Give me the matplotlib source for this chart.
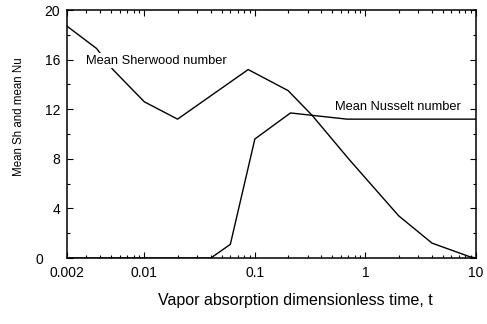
"""Mean Sherwood / Nusselt number vs vapor absorption time (log axis)."""
import matplotlib
matplotlib.use("Agg")
import matplotlib.pyplot as plt
import matplotlib.transforms as mtransforms
from matplotlib.ticker import FixedLocator, FixedFormatter, LogLocator, NullFormatter, MultipleLocator

plt.rcParams["font.family"] = ["Liberation Sans", "DejaVu Sans"]

# data
sh_t = [0.002, 0.0037, 0.0052, 0.01, 0.02, 0.087, 0.2, 0.33, 0.72, 2.0, 4.0, 8.8, 10.0]
sh_v = [18.7, 16.9, 15.2, 12.6, 11.2, 15.2, 13.5, 11.5, 7.9, 3.4, 1.2, 0.1, 0.0]

nu_t = [0.002, 0.04, 0.06, 0.1, 0.21, 0.68, 10.0]
nu_v = [0.0, 0.0, 1.1, 9.6, 11.7, 11.2, 11.2]

xticks = [0.002, 0.01, 0.1, 1, 10]
xticklabels = ["0.002", "0.01", "0.1", "1", "10"]
yticks = [0, 4, 8, 12, 16, 20]

fig = plt.figure(figsize=(4.87, 3.24), dpi=100)
ax = fig.add_axes([0.1376, 0.2037, 0.8398, 0.7653])

ax.plot(sh_t, sh_v, color="black", lw=1.0, zorder=2)
ax.plot(nu_t, nu_v, color="black", lw=1.0, zorder=2)

ax.set_xscale("log")
ax.set_xlim(0.002, 10)
ax.set_ylim(0, 20)

ax.xaxis.set_major_locator(FixedLocator(xticks))
ax.xaxis.set_major_formatter(FixedFormatter(xticklabels))
ax.xaxis.set_minor_locator(LogLocator(base=10, subs=range(2, 10)))
ax.xaxis.set_minor_formatter(NullFormatter())
ax.set_yticks(yticks)
ax.yaxis.set_minor_locator(MultipleLocator(2))

ax.tick_params(which="both", direction="in", top=True, right=True,
               labelsize=10, width=0.8)
ax.tick_params(axis="x", pad=6)
ax.tick_params(axis="y", pad=5)
ax.tick_params(which="major", length=4)
ax.tick_params(which="minor", length=2.5)
for s in ax.spines.values():
    s.set_linewidth(1.1)

# the "0" on the y axis sits further left in the original
fig.canvas.draw()
zero_lbl = ax.get_yticklabels()[0]
zero_lbl.set_transform(zero_lbl.get_transform()
                       + mtransforms.ScaledTranslation(-0.17, 0, fig.dpi_scale_trans))

ax.text(0.00297, 15.9, "Mean Sherwood number", fontsize=9.3, va="center",
        ha="left", bbox=dict(facecolor="white", edgecolor="none", pad=1.0), zorder=3)
ax.text(0.53, 12.2, "Mean Nusselt number", fontsize=9.3, va="center",
        ha="left", zorder=3)

fig.text(19 / 487, 1 - 117 / 324, "Mean Sh and mean Nu", fontsize=8.3,
         rotation=90, ha="center", va="center")
fig.text(295 / 487, 1 - 300 / 324, "Vapor absorption dimensionless time, t",
         fontsize=11.5, ha="center", va="center")

fig.savefig("out.png", dpi=100, facecolor="white")
